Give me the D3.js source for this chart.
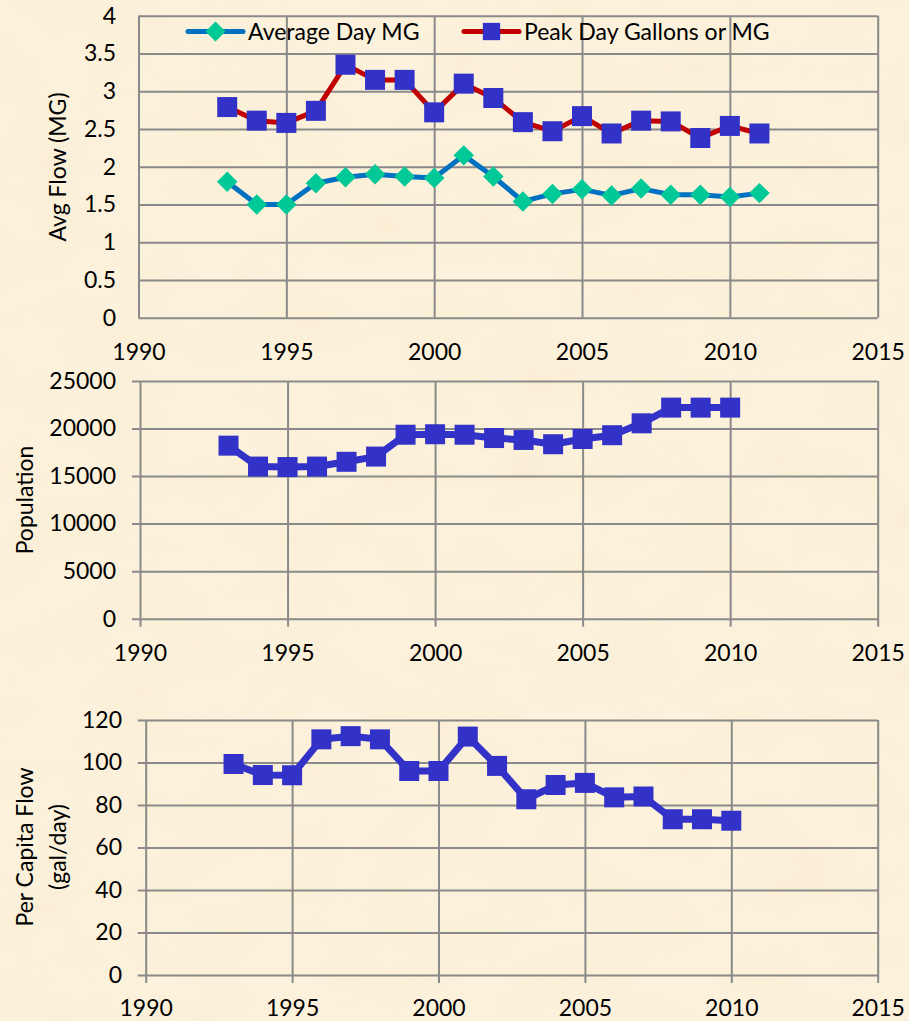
<!DOCTYPE html>
<html>
<head>
<meta charset="utf-8">
<script src="https://cdn.jsdelivr.net/npm/d3@7"></script>
<style>
  html, body { margin: 0; padding: 0; background: #fbefd6; }
  svg { display: block; font-family: Lato, "Liberation Sans", sans-serif; }
</style>
</head>
<body>
<svg id="chart" width="909" height="1021"></svg>
<script>
// years for each series
var flowYears = [1993, 1994, 1995, 1996, 1997, 1998, 1999, 2000, 2001, 2002,
                 2003, 2004, 2005, 2006, 2007, 2008, 2009, 2010, 2011];
var popYears = [1993, 1994, 1995, 1996, 1997, 1998, 1999, 2000, 2001, 2002,
                2003, 2004, 2005, 2006, 2007, 2008, 2009, 2010];

// values
var avgDayMG = [1.80, 1.50, 1.50, 1.78, 1.86, 1.90, 1.87, 1.85, 2.15, 1.87,
                1.54, 1.64, 1.70, 1.62, 1.71, 1.63, 1.63, 1.60, 1.65];
var peakDayMG = [2.79, 2.61, 2.58, 2.74, 3.35, 3.15, 3.15, 2.72, 3.10, 2.91,
                 2.59, 2.47, 2.67, 2.44, 2.61, 2.60, 2.38, 2.54, 2.44];
var population = [18200, 16000, 15950, 16000, 16500, 17050, 19350, 19400, 19350, 19000,
                  18800, 18350, 18900, 19300, 20550, 22200, 22200, 22200];
var perCapita = [99.3, 94.1, 94.0, 110.9, 112.4, 110.9, 96.0, 96.0, 112.2, 98.4,
                 82.7, 89.4, 90.4, 83.6, 84.0, 73.3, 73.3, 72.6];

var xTicks = [1990, 1995, 2000, 2005, 2010, 2015];
var flowTicks = [0, 0.5, 1, 1.5, 2, 2.5, 3, 3.5, 4];
var popTicks = [0, 5000, 10000, 15000, 20000, 25000];
var capTicks = [0, 20, 40, 60, 80, 100, 120];

var svg = d3.select("#chart");

// parchment-ish background
var defs = svg.append("defs");
var f = defs.append("filter").attr("id", "paper")
    .attr("x", 0).attr("y", 0).attr("width", "100%").attr("height", "100%");
f.append("feTurbulence").attr("type", "fractalNoise")
    .attr("baseFrequency", "0.012 0.02").attr("numOctaves", 3).attr("seed", 7);
f.append("feColorMatrix").attr("type", "matrix")
    .attr("values", "0 0 0 0 0.85  0 0 0 0 0.72  0 0 0 0 0.45  0 0 0 1.1 -0.45");
svg.append("rect").attr("width", 909).attr("height", 1021).attr("fill", "#fcf1db");
svg.append("rect").attr("width", 909).attr("height", 1021)
    .attr("filter", "url(#paper)").attr("opacity", 0.25);

var gridColor = "#8a8a8a";
var fontSize = 23;

function panel(opt) {
  var x = d3.scaleLinear().domain([1990, 2015]).range([opt.left, opt.right]);
  var y = d3.scaleLinear().domain(opt.yDomain).range([opt.bottom, opt.top]);
  var g = svg.append("g");
  var tk = opt.tick;

  // vertical grid + x ticks
  var xa = g.append("g").attr("transform", "translate(0," + opt.bottom + ")")
      .call(d3.axisBottom(x).tickValues(xTicks).tickFormat(d3.format("d"))
        .tickSizeOuter(0));
  xa.select(".domain").remove();
  xa.selectAll(".tick line").attr("stroke", gridColor).attr("stroke-width", 2)
    .attr("y2", -(opt.bottom - opt.top)).attr("y1", tk);
  xa.selectAll(".tick text").attr("y", opt.xLabelDy).attr("dy", "0.35em")
    .attr("font-size", fontSize).attr("fill", "#000");

  // horizontal grid + y ticks
  var ya = g.append("g").attr("transform", "translate(" + opt.left + ",0)")
      .call(d3.axisLeft(y).tickValues(opt.yTicks).tickFormat(opt.yFormat)
        .tickSizeOuter(0));
  ya.select(".domain").remove();
  ya.selectAll(".tick line").attr("stroke", gridColor).attr("stroke-width", 2)
    .attr("x1", -tk).attr("x2", opt.right - opt.left);
  ya.selectAll(".tick text").attr("x", opt.yLabelX - opt.left)
    .attr("font-size", fontSize).attr("fill", "#000");
  g.selectAll(".tick text").attr("font-family", "Lato, sans-serif");

  // axis title
  var t = g.append("text").attr("transform", "translate(" + opt.titleX + "," + opt.titleY + ") rotate(-90)")
      .attr("text-anchor", "middle").attr("font-size", fontSize).attr("fill", "#000");
  opt.title.forEach(function (line, i) {
    t.append("tspan").attr("x", 0).attr("dy", i === 0 ? "0.35em" : "1.45em").text(line);
  });

  return { g: g, x: x, y: y };
}

function series(p, years, vals, lineColor, lineW, diamond, markerColor, markerSize) {
  var pts = years.map(function (yr, i) { return [p.x(yr), p.y(vals[i])]; });
  p.g.append("path").attr("d", d3.line()(pts))
    .attr("fill", "none").attr("stroke", lineColor).attr("stroke-width", lineW)
    .attr("stroke-linejoin", "round");
  var sym = d3.symbol().type(d3.symbolSquare).size(markerSize);
  p.g.selectAll(null).data(pts).join("path")
    .attr("transform", function (d) { return "translate(" + d[0] + "," + d[1] + ")" + (diamond ? " rotate(45)" : ""); })
    .attr("d", sym)
    .attr("fill", markerColor);
}

// panel 1: flows
var p1 = panel({
  left: 138.5, right: 877.7, top: 15.7, bottom: 317.7,
  yDomain: [0, 4], yTicks: flowTicks, yFormat: function (d) { return d; },
  tick: 0, xLabelDy: 34, yLabelX: 116,
  title: ["Avg Flow (MG)"], titleX: 58, titleY: 167
});
series(p1, flowYears, peakDayMG, "#c00000", 5, false, "#3232c8", 400);
series(p1, flowYears, avgDayMG, "#0070c0", 5, true, "#00c896", 210);

// legend
var legend = [
  { name: "Average Day MG", line: "#0070c0", mark: "#00c896", diamond: true, x: 188 },
  { name: "Peak Day Gallons or MG", line: "#c00000", mark: "#3232c8", diamond: false, x: 464 }
];
var lg = svg.append("g");
legend.forEach(function (d) {
  var ly = 31.5;
  lg.append("line").attr("x1", d.x).attr("x2", d.x + 55).attr("y1", ly).attr("y2", ly)
    .attr("stroke", d.line).attr("stroke-width", 5).attr("stroke-linecap", "round");
  lg.append("path")
    .attr("transform", "translate(" + (d.x + 27.5) + "," + ly + ")" + (d.diamond ? " rotate(45)" : ""))
    .attr("d", d3.symbol().type(d3.symbolSquare).size(d.diamond ? 200 : 300)())
    .attr("fill", d.mark);
  lg.append("text").attr("x", d.x + 60).attr("y", ly).attr("dy", "0.35em")
    .attr("font-size", fontSize).attr("fill", "#000").text(d.name);
});

// panel 2: population
var p2 = panel({
  left: 140, right: 877.7, top: 381, bottom: 618.7,
  yDomain: [0, 25000], yTicks: popTicks, yFormat: function (d) { return d; },
  tick: 8, xLabelDy: 34, yLabelX: 116,
  title: ["Population"], titleX: 25, titleY: 500
});
series(p2, popYears, population, "#3232c8", 7, false, "#3232c8", 400);

// panel 3: per capita
var p3 = panel({
  left: 145.7, right: 877.7, top: 720, bottom: 975,
  yDomain: [0, 120], yTicks: capTicks, yFormat: function (d) { return d; },
  tick: 8, xLabelDy: 33, yLabelX: 122,
  title: ["Per Capita Flow", "(gal/day)"], titleX: 25, titleY: 847
});
series(p3, popYears, perCapita, "#3232c8", 7, false, "#3232c8", 400);
</script>
</body>
</html>
